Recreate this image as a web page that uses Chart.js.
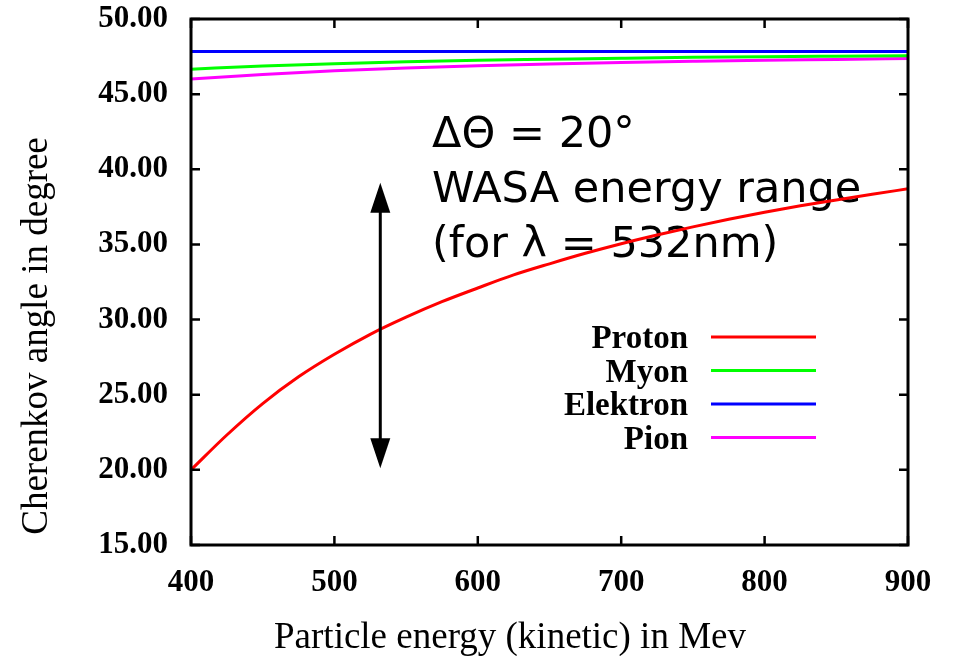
<!DOCTYPE html>
<html>
<head>
<meta charset="utf-8">
<script src="https://cdn.jsdelivr.net/npm/chart.js@4/dist/chart.umd.min.js"></script>
<style>
  body { margin: 0; background: #fff; }
</style>
</head>
<body>
<canvas id="myChart" width="956" height="656"></canvas>
<script>
// Particle kinetic energy in MeV
var energies = [400, 450, 500, 550, 600, 650, 700, 750, 800, 850, 900];
// the proton curve bends more, so it is read at finer steps
var protonEnergies = [400, 425, 450, 475, 500, 525, 550, 575, 600, 625, 650,
                      675, 700, 725, 750, 775, 800, 825, 850, 875, 900];

// Cherenkov angle in degree
var proton   = [20.0, 22.32, 24.41, 26.19, 27.69, 29.02, 30.16, 31.19, 32.10, 32.97, 33.71,
                34.41, 35.05, 35.63, 36.17, 36.67, 37.14, 37.57, 37.96, 38.34, 38.70];
var myon     = [46.66, 46.87, 47.03, 47.15, 47.25, 47.32, 47.39, 47.45, 47.49, 47.52, 47.55];
var elektron = [47.84, 47.84, 47.84, 47.84, 47.84, 47.84, 47.84, 47.84, 47.84, 47.84, 47.84];
var pion     = [46.0, 46.31, 46.55, 46.74, 46.89, 47.01, 47.11, 47.19, 47.26, 47.31, 47.37];

var seriesNames = ['Proton', 'Myon', 'Elektron', 'Pion'];
var seriesColors = ['#ff0000', '#00ff00', '#0000ff', '#ff00ff'];

// the double arrow marking the WASA range
var arrowEnergy = 532;
var arrowFrom = 20.1;
var arrowTo = 39.1;

var noteLines = ['\u0394\u0398 = 20\u00b0', 'WASA energy range', '(for \u03bb = 532nm)'];

var xTitle = 'Particle energy (kinetic) in Mev';
var yTitle = 'Cherenkov angle in degree';

function toPoints(xs, values) {
  return values.map(function (v, i) { return { x: xs[i], y: v }; });
}

var allSeries = [
  toPoints(protonEnergies, proton),
  toPoints(energies, myon),
  toPoints(energies, elektron),
  toPoints(energies, pion)
];
var datasets = allSeries.map(function (points, i) {
  return {
    label: seriesNames[i],
    data: points,
    borderColor: seriesColors[i],
    borderWidth: 3,
    pointRadius: 0,
    cubicInterpolationMode: 'monotone'
  };
});

var serif = '"Liberation Serif", "Times New Roman", serif';

// Text note, drawn under the curves
var notePlugin = {
  id: 'note',
  beforeDatasetsDraw: function (chart) {
    var ctx = chart.ctx;
    ctx.save();
    ctx.fillStyle = '#000';
    ctx.font = '43px "DejaVu Sans"';
    ctx.textAlign = 'left';
    ctx.textBaseline = 'alphabetic';
    noteLines.forEach(function (t, i) {
      ctx.fillText(t, 432, 147 + i * 55);
    });
    ctx.restore();
  }
};

// Frame, inner ticks, arrow, legend and axis titles
var decorPlugin = {
  id: 'decor',
  afterDatasetsDraw: function (chart) {
    var ctx = chart.ctx;
    var a = chart.chartArea;
    var xs = chart.scales.x, ys = chart.scales.y;
    ctx.save();
    ctx.strokeStyle = '#000';
    ctx.fillStyle = '#000';

    // arrow
    var ax = xs.getPixelForValue(arrowEnergy);
    var y1 = ys.getPixelForValue(arrowTo);
    var y2 = ys.getPixelForValue(arrowFrom);
    var head = 30, half = 10;
    ctx.lineWidth = 3;
    ctx.beginPath();
    ctx.moveTo(ax, y1 + head - 2);
    ctx.lineTo(ax, y2 - head + 2);
    ctx.stroke();
    ctx.beginPath();
    ctx.moveTo(ax, y1);
    ctx.lineTo(ax - half, y1 + head);
    ctx.lineTo(ax + half, y1 + head);
    ctx.closePath();
    ctx.fill();
    ctx.beginPath();
    ctx.moveTo(ax, y2);
    ctx.lineTo(ax - half, y2 - head);
    ctx.lineTo(ax + half, y2 - head);
    ctx.closePath();
    ctx.fill();

    // inner ticks on all sides
    ctx.lineWidth = 2.5;
    ctx.beginPath();
    xs.ticks.forEach(function (t) {
      var px = xs.getPixelForValue(t.value);
      ctx.moveTo(px, a.bottom); ctx.lineTo(px, a.bottom - 9);
      ctx.moveTo(px, a.top); ctx.lineTo(px, a.top + 9);
    });
    ys.ticks.forEach(function (t) {
      var py = ys.getPixelForValue(t.value);
      ctx.moveTo(a.left, py); ctx.lineTo(a.left + 9, py);
      ctx.moveTo(a.right, py); ctx.lineTo(a.right - 9, py);
    });
    ctx.stroke();

    // frame
    ctx.lineWidth = 3;
    ctx.strokeRect(a.left, a.top, a.right - a.left, a.bottom - a.top);

    // legend
    ctx.font = 'bold 33px ' + serif;
    ctx.textAlign = 'right';
    ctx.textBaseline = 'alphabetic';
    chart.data.datasets.forEach(function (ds, i) {
      var ry = 337 + i * 33.5;
      ctx.fillStyle = '#000';
      ctx.fillText(ds.label, 688, ry + 11);
      ctx.strokeStyle = ds.borderColor;
      ctx.lineWidth = 3;
      ctx.beginPath();
      ctx.moveTo(711, ry);
      ctx.lineTo(816, ry);
      ctx.stroke();
    });

    // axis titles
    ctx.fillStyle = '#000';
    ctx.font = '37px ' + serif;
    ctx.textAlign = 'center';
    ctx.fillText(xTitle, 510, 648);
    ctx.translate(47, 336);
    ctx.rotate(-Math.PI / 2);
    ctx.fillText(yTitle, 0, 0);
    ctx.restore();
  }
};

var ctx = document.getElementById('myChart').getContext('2d');
var myChart = new Chart(ctx, {
  type: 'line',
  data: { datasets: datasets },
  plugins: [notePlugin, decorPlugin],
  options: {
    responsive: false,
    animation: false,
    layout: {
      padding: { top: 19, right: 48, left: 0, bottom: 0 }
    },
    plugins: {
      legend: { display: false },
      tooltip: { enabled: false }
    },
    scales: {
      x: {
        type: 'linear',
        min: 400,
        max: 900,
        // tick marks are drawn by the plugin; tickLength only spaces the labels
        grid: { display: false, drawTicks: true, tickLength: 19 },
        border: { display: false },
        ticks: {
          stepSize: 100,
          padding: 0,
          color: '#000',
          maxRotation: 0,
          font: { family: serif, size: 31, weight: 'bold' }
        },
        afterFit: function (scale) { scale.height = 111; }
      },
      y: {
        min: 15,
        max: 50,
        grid: { display: false, drawTicks: true, tickLength: 23 },
        border: { display: false },
        ticks: {
          stepSize: 5,
          padding: 0,
          color: '#000',
          font: { family: serif, size: 31, weight: 'bold' },
          callback: function (v) { return v.toFixed(2); }
        },
        afterFit: function (scale) { scale.width = 191; }
      }
    }
  }
});
</script>
</body>
</html>
